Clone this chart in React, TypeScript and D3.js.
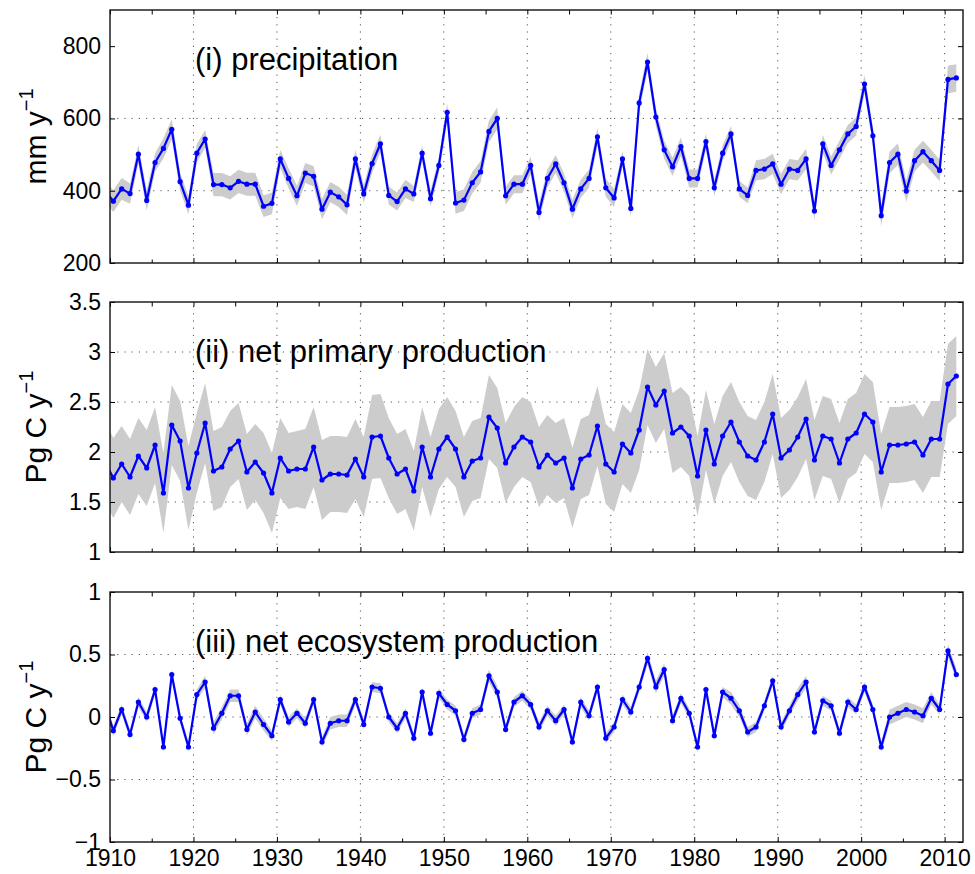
// @ts-nocheck
import React, { useEffect, useRef } from 'react'
import * as d3 from 'd3'

// years 1909..2011 (1909 sits left of the axis and is clipped)
const years = [
    1909,
    1910, 1911, 1912, 1913, 1914, 1915, 1916, 1917, 1918, 1919,
    1920, 1921, 1922, 1923, 1924, 1925, 1926, 1927, 1928, 1929,
    1930, 1931, 1932, 1933, 1934, 1935, 1936, 1937, 1938, 1939,
    1940, 1941, 1942, 1943, 1944, 1945, 1946, 1947, 1948, 1949,
    1950, 1951, 1952, 1953, 1954, 1955, 1956, 1957, 1958, 1959,
    1960, 1961, 1962, 1963, 1964, 1965, 1966, 1967, 1968, 1969,
    1970, 1971, 1972, 1973, 1974, 1975, 1976, 1977, 1978, 1979,
    1980, 1981, 1982, 1983, 1984, 1985, 1986, 1987, 1988, 1989,
    1990, 1991, 1992, 1993, 1994, 1995, 1996, 1997, 1998, 1999,
    2000, 2001, 2002, 2003, 2004, 2005, 2006, 2007, 2008, 2009,
    2010, 2011
]

// (i) precipitation, mm/y
const precipitation = [
    400,
    371, 405, 392, 501, 373, 478, 517, 570, 425, 360,
    504, 543, 417, 417, 408, 426, 418, 418, 357, 365,
    488, 434, 386, 449, 440, 349, 396, 383, 361, 488,
    391, 475, 530, 387, 370, 405, 391, 504, 378, 470,
    617, 366, 374, 422, 452, 564, 600, 386, 418, 418,
    470, 340, 434, 474, 422, 349, 405, 434, 549, 408,
    380, 488, 351, 643, 756, 604, 513, 466, 522, 434,
    434, 536, 408, 504, 557, 405, 387, 456, 460, 474,
    418, 460, 456, 488, 344, 530, 470, 513, 557, 578,
    695, 552, 331, 478, 501, 399, 483, 508, 483, 456,
    708, 712
]
const precipitationSpread = [
    30,
    30, 30, 28, 25, 28, 25, 28, 28, 25, 25,
    25, 25, 32, 32, 32, 32, 32, 32, 30, 30,
    25, 28, 28, 28, 28, 28, 28, 28, 28, 25,
    25, 25, 25, 25, 25, 25, 22, 22, 22, 22,
    25, 30, 30, 30, 30, 30, 30, 25, 25, 25,
    25, 25, 25, 25, 25, 25, 25, 25, 25, 25,
    25, 22, 22, 25, 25, 25, 25, 25, 25, 25,
    25, 22, 22, 22, 22, 22, 22, 28, 28, 28,
    28, 28, 28, 28, 25, 25, 25, 25, 25, 25,
    25, 25, 30, 30, 30, 30, 30, 30, 30, 30,
    38, 38
]

// (ii) net primary production, Pg C/y
const npp = [
    1.90,
    1.74, 1.88, 1.75, 1.96, 1.84, 2.07, 1.59, 2.27, 2.11, 1.64,
    1.99, 2.29, 1.81, 1.85, 2.03, 2.11, 1.80, 1.90, 1.79, 1.59,
    1.94, 1.81, 1.83, 1.83, 2.05, 1.72, 1.78, 1.78, 1.77, 1.93,
    1.75, 2.15, 2.16, 1.94, 1.78, 1.83, 1.61, 2.05, 1.75, 2.03,
    2.15, 2.03, 1.75, 1.91, 1.94, 2.35, 2.24, 1.89, 2.05, 2.15,
    2.10, 1.85, 1.97, 1.89, 1.94, 1.64, 1.93, 1.97, 2.26, 1.88,
    1.80, 2.08, 1.99, 2.22, 2.65, 2.47, 2.61, 2.19, 2.25, 2.16,
    1.76, 2.22, 1.88, 2.16, 2.30, 2.10, 1.96, 1.92, 2.10, 2.38,
    1.94, 2.02, 2.15, 2.33, 1.92, 2.16, 2.13, 1.89, 2.13, 2.19,
    2.38, 2.30, 1.80, 2.07, 2.07, 2.08, 2.10, 1.97, 2.13, 2.13,
    2.68, 2.76
]
const nppSpread = [
    0.40,
    0.40, 0.38, 0.38, 0.38, 0.38, 0.38, 0.40, 0.40, 0.40, 0.42,
    0.40, 0.40, 0.40, 0.40, 0.38, 0.38, 0.38, 0.38, 0.40, 0.40,
    0.40, 0.38, 0.38, 0.40, 0.40, 0.40, 0.38, 0.38, 0.38, 0.40,
    0.40, 0.42, 0.42, 0.40, 0.40, 0.40, 0.40, 0.40, 0.40, 0.40,
    0.40, 0.38, 0.40, 0.40, 0.40, 0.42, 0.40, 0.40, 0.40, 0.40,
    0.40, 0.40, 0.40, 0.40, 0.40, 0.40, 0.40, 0.40, 0.40, 0.40,
    0.40, 0.40, 0.40, 0.40, 0.38, 0.38, 0.38, 0.40, 0.40, 0.40,
    0.40, 0.40, 0.40, 0.40, 0.40, 0.40, 0.40, 0.40, 0.40, 0.40,
    0.40, 0.40, 0.40, 0.40, 0.40, 0.40, 0.40, 0.40, 0.40, 0.40,
    0.40, 0.40, 0.38, 0.38, 0.38, 0.38, 0.38, 0.38, 0.38, 0.38,
    0.40, 0.40
]

// (iii) net ecosystem production, Pg C/y
const nep = [
    0.10,
    -0.11, 0.06, -0.14, 0.12, 0.00, 0.22, -0.24, 0.34, -0.01, -0.24,
    0.18, 0.28, -0.09, 0.03, 0.17, 0.17, -0.10, 0.04, -0.06, -0.15,
    0.14, -0.04, 0.03, -0.05, 0.14, -0.20, -0.05, -0.03, -0.03, 0.14,
    -0.06, 0.24, 0.23, 0.00, -0.09, 0.03, -0.17, 0.20, -0.13, 0.19,
    0.10, 0.05, -0.18, 0.03, 0.06, 0.33, 0.20, -0.10, 0.12, 0.17,
    0.10, -0.08, 0.05, -0.03, 0.06, -0.20, 0.12, 0.01, 0.24, -0.17,
    -0.08, 0.14, 0.04, 0.24, 0.47, 0.24, 0.38, -0.03, 0.15, 0.03,
    -0.24, 0.22, -0.15, 0.20, 0.15, 0.05, -0.12, -0.08, 0.09, 0.29,
    -0.08, 0.05, 0.18, 0.28, -0.12, 0.13, 0.09, -0.13, 0.12, 0.06,
    0.24, 0.06, -0.24, 0.00, 0.03, 0.06, 0.04, 0.01, 0.15, 0.06,
    0.53, 0.34
]
const nepSpread = [
    0.04,
    0.04, 0.04, 0.04, 0.04, 0.04, 0.04, 0.04, 0.04, 0.04, 0.04,
    0.04, 0.05, 0.05, 0.05, 0.05, 0.05, 0.05, 0.05, 0.05, 0.04,
    0.04, 0.04, 0.04, 0.04, 0.04, 0.04, 0.05, 0.05, 0.05, 0.04,
    0.04, 0.04, 0.04, 0.04, 0.04, 0.04, 0.04, 0.04, 0.04, 0.04,
    0.04, 0.04, 0.04, 0.04, 0.04, 0.05, 0.05, 0.04, 0.04, 0.04,
    0.04, 0.04, 0.04, 0.04, 0.04, 0.04, 0.04, 0.04, 0.04, 0.04,
    0.04, 0.04, 0.04, 0.04, 0.05, 0.05, 0.05, 0.04, 0.04, 0.04,
    0.04, 0.04, 0.04, 0.04, 0.05, 0.05, 0.04, 0.04, 0.04, 0.04,
    0.04, 0.04, 0.05, 0.05, 0.04, 0.04, 0.04, 0.04, 0.04, 0.04,
    0.04, 0.04, 0.04, 0.06, 0.06, 0.06, 0.06, 0.06, 0.05, 0.04,
    0.05, 0.05
]

const xMajor = [1910, 1920, 1930, 1940, 1950, 1960, 1970, 1980, 1990, 2000, 2010]
const xMinor = [1915, 1925, 1935, 1945, 1955, 1965, 1975, 1985, 1995, 2005]

const precipTicks = [200, 400, 600, 800]
const nppTicks = [1, 1.5, 2, 2.5, 3, 3.5]
const nepTicks = [-1, -0.5, 0, 0.5, 1]

const FONT = '"Liberation Sans", Arial, Helvetica, sans-serif'

const App = () => {
    const ref = useRef(null)

    const buildChart = () => {
        const width = 975, height = 874
        const left = 110, right = 963

        // year values sit a bit past the start of each year
        const x = d3.scaleLinear([1910, 2012.2], [left, right])
        const xt = (i) => x(years[i] + 0.4)

        const svg = d3.select(ref.current)
            .attr('width', width)
            .attr('height', height)
        svg.selectAll('*').remove()

        const panels = [
            { key: 'p', values: precipitation, spread: precipitationSpread, domain: [200, 900], ticks: precipTicks,
              top: 10, bottom: 263, title: '(i) precipitation', label: 'mm y' },
            { key: 'n', values: npp, spread: nppSpread, domain: [1, 3.5], ticks: nppTicks,
              top: 302, bottom: 552, title: '(ii) net primary production', label: 'Pg C y' },
            { key: 'e', values: nep, spread: nepSpread, domain: [-1, 1], ticks: nepTicks,
              top: 592, bottom: 842, title: '(iii) net ecosystem production', label: 'Pg C y' },
        ]

        const fmt = (v) => String(v).replace('-', '\u2212')

        panels.forEach((p, k) => {
            const y = d3.scaleLinear(p.domain, [p.bottom, p.top])
            const g = svg.append('g')

            g.append('clipPath').attr('id', 'clip-' + p.key)
                .append('rect')
                .attr('x', left).attr('y', p.top)
                .attr('width', right - left).attr('height', p.bottom - p.top)

            // dotted grid
            const grid = g.append('g')
                .attr('stroke', '#555')
                .attr('stroke-width', 1)
                .attr('stroke-dasharray', '1.2,6')
            grid.selectAll('line.v').data(xMajor.slice(1)).join('line')
                .attr('x1', d => x(d)).attr('x2', d => x(d))
                .attr('y1', p.bottom).attr('y2', p.top)
            grid.selectAll('line.h').data(p.ticks.slice(1, -1)).join('line')
                .attr('y1', d => y(d)).attr('y2', d => y(d))
                .attr('x1', left).attr('x2', right)

            // title
            g.append('text')
                .attr('x', 195).attr('y', p.top + 60)
                .attr('font-family', FONT).attr('font-size', 31)
                .attr('fill', '#000')
                .text(p.title)

            const plot = g.append('g').attr('clip-path', `url(#clip-${p.key})`)

            // uncertainty band
            const band = d3.area()
                .x((d, i) => xt(i))
                .y0((d, i) => y(d - p.spread[i]))
                .y1((d, i) => y(d + p.spread[i]))
            plot.append('path')
                .attr('fill', '#cccccc')
                .attr('d', band(p.values))

            // series line
            const line = d3.line()
                .x((d, i) => xt(i))
                .y(d => y(d))
            plot.append('path')
                .attr('fill', 'none')
                .attr('stroke', '#0000ff')
                .attr('stroke-width', 2.2)
                .attr('stroke-linejoin', 'round')
                .attr('d', line(p.values))

            plot.selectAll('circle').data(p.values).join('circle')
                .attr('cx', (d, i) => xt(i))
                .attr('cy', d => y(d))
                .attr('r', 2.6)
                .attr('fill', '#0000ff')

            // axes, ticks pointing inward
            const yAxis = g.append('g')
                .attr('transform', `translate(${left},0)`)
                .call(d3.axisLeft(y).tickValues(p.ticks).tickFormat(fmt).tickSize(-5).tickPadding(9))
            yAxis.select('.domain').remove()
            yAxis.selectAll('text').attr('font-family', FONT).attr('font-size', 23).attr('fill', '#000')
            yAxis.selectAll('line').attr('stroke', '#000')

            g.append('g')
                .attr('transform', `translate(${right},0)`)
                .call(d3.axisRight(y).tickValues(p.ticks).tickFormat('').tickSize(-5))
                .call(a => a.select('.domain').remove())
                .selectAll('line').attr('stroke', '#000')

            const xb = g.append('g')
                .attr('transform', `translate(0,${p.bottom})`)
                .call(d3.axisBottom(x).tickValues(xMajor).tickFormat(k === 2 ? d3.format('d') : '').tickSize(-5).tickPadding(8))
            xb.select('.domain').remove()
            xb.selectAll('text').attr('font-family', FONT).attr('font-size', 23).attr('fill', '#000')
            xb.selectAll('line').attr('stroke', '#000')

            g.append('g')
                .attr('transform', `translate(0,${p.bottom})`)
                .call(d3.axisBottom(x).tickValues(xMinor).tickFormat('').tickSize(-3.5))
                .call(a => a.select('.domain').remove())
                .selectAll('line').attr('stroke', '#000')

            g.append('g')
                .attr('transform', `translate(0,${p.top})`)
                .call(d3.axisTop(x).tickValues(xMajor.concat(xMinor)).tickFormat('').tickSize(-4.5))
                .call(a => a.select('.domain').remove())
                .selectAll('line').attr('stroke', '#000')

            // frame
            g.append('rect')
                .attr('x', left).attr('y', p.top)
                .attr('width', right - left).attr('height', p.bottom - p.top)
                .attr('fill', 'none')
                .attr('stroke', '#111')
                .attr('stroke-width', 1.4)

            // y label with superscript
            const cy = (p.top + p.bottom) / 2
            const lab = g.append('text')
                .attr('transform', `translate(46,${cy}) rotate(-90)`)
                .attr('text-anchor', 'middle')
                .attr('font-family', FONT)
                .attr('font-size', 30)
                .attr('fill', '#000')
            lab.append('tspan').text(p.label)
            lab.append('tspan')
                .attr('dy', -13)
                .attr('font-size', 20)
                .text('\u22121')
        })
    }

    useEffect(() => {
        buildChart()
    }, [])

    return <svg ref={ref} width="975" height="874"
        style={{ position: 'absolute', left: 0, top: 0, background: '#fff' }}></svg>
}

export default App
